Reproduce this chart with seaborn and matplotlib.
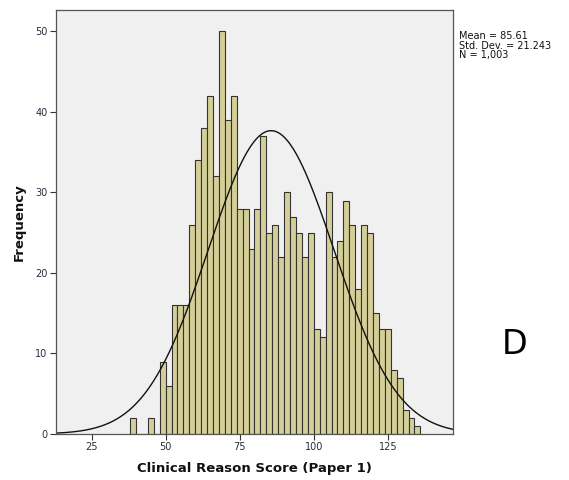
import numpy as np
import pandas as pd
import matplotlib
matplotlib.use("Agg")
import matplotlib.pyplot as plt
import seaborn as sns

# Histogram of scores in 2-point bins (left edges) and their counts
bin_left = [38, 44, 48, 50, 52, 54, 56, 58, 60, 62, 64, 66, 68, 70, 72,
            74, 76, 78, 80, 82, 84, 86, 88, 90, 92, 94, 96, 98, 100, 102,
            104, 106, 108, 110, 112, 114, 116, 118, 120, 122, 124, 126, 128,
            130, 132, 134]
counts = [2, 2, 9, 6, 16, 16, 16, 26, 34, 38, 42, 32, 50, 39, 42,
          28, 28, 23, 28, 37, 25, 26, 22, 30, 27, 25, 22, 25, 13, 12,
          30, 22, 24, 29, 26, 18, 26, 25, 15, 13, 13, 8, 7,
          3, 2, 1]
bin_width = 2

mean = 85.61
std_dev = 21.243
n_total = 1003

x_ticks = [25, 50, 75, 100, 125]
y_ticks = [0, 10, 20, 30, 40, 50]

df = pd.DataFrame({"score": np.array(bin_left) + bin_width / 2, "count": counts})

sns.set_style("white")
plt.rcParams["font.family"] = ["DejaVu Sans"]

fig = plt.figure(figsize=(5.69, 4.8), dpi=100)
ax = fig.add_axes([56 / 569, 1 - 434 / 480, (453 - 56) / 569, (434 - 10) / 480])
ax.set_facecolor("#f0f0f0")

sns.histplot(data=df, x="score", weights="count", binwidth=bin_width,
             binrange=(38, 136), ax=ax,
             color="#d4cf98", edgecolor="#333333", linewidth=0.8, alpha=1.0)

# Fitted normal curve scaled to counts per bin
xs = np.linspace(13, 147, 400)
pdf = np.exp(-0.5 * ((xs - mean) / std_dev) ** 2) / (std_dev * np.sqrt(2 * np.pi))
sns.lineplot(x=xs, y=pdf * n_total * bin_width, ax=ax, color="#111111", linewidth=1.0)

ax.set_xlim(13, 147)
ax.set_ylim(0, 52.66)
ax.set_xticks(x_ticks)
ax.set_yticks(y_ticks)
ax.tick_params(axis="both", direction="out", length=4, width=0.8,
               colors="#333333", labelsize=7, labelcolor="#2a2a40", pad=2)
ax.tick_params(left=True, bottom=True)
for s in ax.spines.values():
    s.set_color("#555555")
    s.set_linewidth(0.9)

ax.set_xlabel("Clinical Reason Score (Paper 1)", fontsize=9.5, fontweight="bold",
              color="#111111", labelpad=7)
ax.set_ylabel("Frequency", fontsize=9.5, fontweight="bold", color="#111111", labelpad=7)

fig.text(459 / 569, 1 - 31 / 480,
         f"Mean = {mean:.2f}\nStd. Dev. = {std_dev:.3f}\nN = {n_total:,}",
         fontsize=7, va="top", ha="left", linespacing=0.95, color="#111111")
fig.text(515 / 569, 1 - 345 / 480, "D", fontsize=24, ha="center", va="center",
         color="#000000")

fig.savefig("out.png", dpi=100, facecolor="white")
